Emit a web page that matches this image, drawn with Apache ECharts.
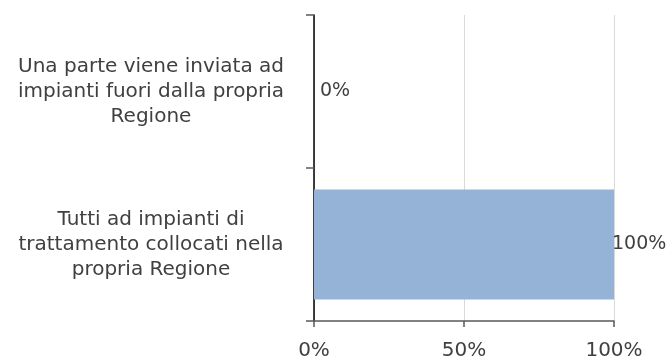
<!DOCTYPE html>
<html>
<head>
<meta charset="utf-8">
<script src="https://cdn.jsdelivr.net/npm/echarts@6/dist/echarts.min.js"></script>
<style>html,body{margin:0;padding:0;background:#fff;}#c{width:666px;height:361px;}</style>
</head>
<body>
<div id="c"></div>
<script>
const categories = [
  "Tutti ad impianti di\ntrattamento collocati nella\npropria Regione",
  "Una parte viene inviata ad\nimpianti fuori dalla propria\nRegione"
];
const values = [100, 0];
const xTicks = [0, 50, 100];

const FONT = "DejaVu Sans";
const FS = 20;
const chart = echarts.init(document.getElementById('c'), null, {renderer: 'canvas'});
chart.setOption({
  animation: false,
  grid: {left: 314, right: 52, top: 15, bottom: 39, containLabel: false},
  xAxis: {
    type: 'value', min: xTicks[0], max: xTicks[xTicks.length - 1], interval: 50,
    axisLine: {show: true, lineStyle: {color: '#595959', width: 1.5}},
    axisTick: {show: true, length: 6, lineStyle: {color: '#595959', width: 1.5}},
    splitLine: {show: true, lineStyle: {color: '#D9D9D9', width: 1}},
    axisLabel: {formatter: v => v + '%', color: '#404040', fontFamily: FONT, fontSize: FS, margin: 20}
  },
  yAxis: {
    type: 'category', data: categories,
    axisLine: {show: true, lineStyle: {color: '#000', width: 1.5}},
    axisTick: {show: true, length: 8, lineStyle: {color: '#595959', width: 1.5}},
    axisLabel: {color: '#404040', fontFamily: FONT, fontSize: FS, lineHeight: 25, align: 'center',
      margin: 163}
  },
  series: [{
    type: 'bar',
    data: values.map(v => ({value: v, label: {distance: v >= 100 ? -2 : 6}})),
    barWidth: '72%',
    itemStyle: {color: '#95B3D7'},
    label: {show: true, position: 'right', formatter: p => p.value + '%',
      color: '#404040', fontFamily: FONT, fontSize: 19},
    z: 1
  }]
});
</script>
</body>
</html>
